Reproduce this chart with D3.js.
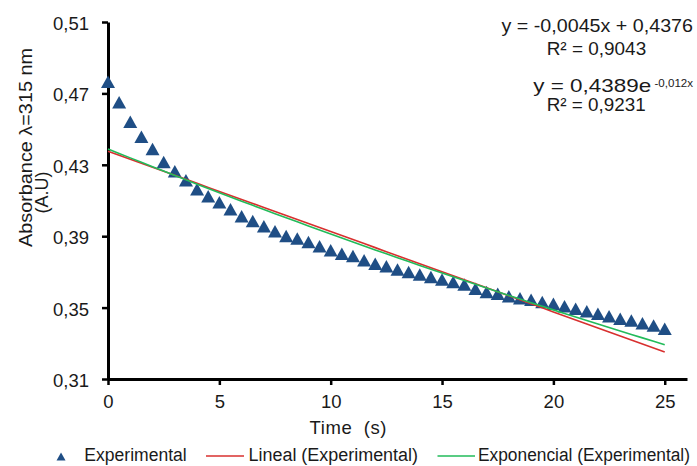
<!DOCTYPE html>
<html>
<head>
<meta charset="utf-8">
<script src="https://cdn.jsdelivr.net/npm/d3@7"></script>
<style>
  html, body { margin: 0; padding: 0; background: #fff; }
  svg { display: block; font-family: "Liberation Sans", Arial, sans-serif; }
</style>
</head>
<body>
<script>
// Absorbance at 315 nm sampled every 0.5 s
const times = [0, 0.5, 1, 1.5, 2, 2.5, 3, 3.5, 4, 4.5, 5, 5.5, 6, 6.5, 7, 7.5, 8, 8.5, 9, 9.5,
  10, 10.5, 11, 11.5, 12, 12.5, 13, 13.5, 14, 14.5, 15, 15.5, 16, 16.5, 17, 17.5, 18, 18.5, 19, 19.5,
  20, 20.5, 21, 21.5, 22, 22.5, 23, 23.5, 24, 24.5, 25];
const absorbance = [0.4765, 0.4651, 0.4541, 0.4457, 0.4388, 0.4316, 0.4264, 0.4214, 0.4163, 0.4124,
  0.4090, 0.4051, 0.4012, 0.3985, 0.3956, 0.3928, 0.3901, 0.3887, 0.3868, 0.3843,
  0.3821, 0.3802, 0.3789, 0.3765, 0.3746, 0.3731, 0.3713, 0.3699, 0.3685, 0.3671,
  0.3657, 0.3643, 0.3629, 0.3606, 0.3587, 0.3578, 0.3563, 0.3552, 0.3544, 0.3531,
  0.3522, 0.3508, 0.3494, 0.3480, 0.3466, 0.3451, 0.3438, 0.3428, 0.3413, 0.3400, 0.3382];

// Trendline coefficients
const linearFit = [-0.0045, 0.4376];   // slope, intercept
const expFit = [0.4389, -0.0115];      // a, b  in  y = a·e^(b·x)

const xTicks = [0, 5, 10, 15, 20, 25];
const yTicks = [0.31, 0.35, 0.39, 0.43, 0.47, 0.51];
const seriesNames = ["Experimental", "Lineal (Experimental)", "Exponencial (Experimental)"];
const linearEquation = ["y = -0,0045x + 0,4376", "R² = 0,9043"];
const expEquation = ["y = 0,4389e", "-0,012x", "R² = 0,9231"];
const xTitle = "Time  (s)";
const yTitle = ["Absorbance λ=315 nm", "(A.U)"];

const W = 697, H = 466;
const COL_PTS = "#1f4e85", COL_LIN = "#d8302f", COL_EXP = "#22bb5a", TXT = "#1a1a1a";

const svg = d3.select("body").append("svg")
  .attr("width", W).attr("height", H)
  .attr("viewBox", `0 0 ${W} ${H}`);
svg.append("rect").attr("width", W).attr("height", H).attr("fill", "#fff");

const x = d3.scaleLinear().domain([0, 26]).range([108, 687]);
const y = d3.scaleLinear().domain([0.31, 0.51]).range([379, 22]);

const fmt = d => d.toFixed(2).replace(".", ",");

// Axes
const gy = svg.append("g").attr("transform", `translate(${x(0)},0)`)
  .call(d3.axisLeft(y).tickValues(yTicks).tickFormat(fmt).tickSize(6).tickSizeOuter(0).tickPadding(13));
const gx = svg.append("g").attr("transform", `translate(0,${y(0.31)})`)
  .call(d3.axisBottom(x).tickValues(xTicks).tickFormat(d3.format("d")).tickSize(6).tickSizeOuter(0).tickPadding(10));

[gx, gy].forEach(g => {
  g.select(".domain").attr("stroke", "#000").attr("stroke-width", 3);
  g.selectAll(".tick line").attr("stroke", "#000").attr("stroke-width", 2.5);
  g.selectAll(".tick text").attr("fill", TXT).style("font-size", "18.5px")
    .style("font-family", '"Liberation Sans", Arial, sans-serif');
});
gy.selectAll(".tick text").attr("dy", "0.4em");

// Axis titles
svg.append("text").attr("x", 348).attr("y", 434).attr("text-anchor", "middle")
  .attr("fill", TXT).style("font-size", "18.5px").style("white-space", "pre")
  .attr("textLength", 77).attr("lengthAdjust", "spacing")
  .text(xTitle);
svg.append("text").attr("transform", "translate(32,147.5) rotate(-90)")
  .attr("text-anchor", "middle").attr("fill", TXT).style("font-size", "19px")
  .attr("textLength", 199).attr("lengthAdjust", "spacingAndGlyphs")
  .text(yTitle[0]);
svg.append("text").attr("transform", "translate(48,192.5) rotate(-90)")
  .attr("text-anchor", "middle").attr("fill", TXT).style("font-size", "18px")
  .text(yTitle[1]);

// Triangle marker centred on its bounding box
const tri = (cx, cy, w, h) =>
  `M${cx},${cy - h / 2}L${cx + w / 2},${cy + h / 2}L${cx - w / 2},${cy + h / 2}Z`;

// Data points
svg.append("g").selectAll("path")
  .data(times.map((t, i) => [t, absorbance[i]]))
  .join("path")
  .attr("d", d => tri(x(d[0]), y(d[1]), 14, 12.5))
  .attr("fill", COL_PTS);

// Trendlines
const linePath = d3.line().x(d => x(d[0])).y(d => y(d[1]));
svg.append("path")
  .attr("d", linePath(times.map(t => [t, linearFit[0] * t + linearFit[1]])))
  .attr("fill", "none").attr("stroke", COL_LIN).attr("stroke-width", 1.6);
svg.append("path")
  .attr("d", linePath(times.map(t => [t, expFit[0] * Math.exp(expFit[1] * t)])))
  .attr("fill", "none").attr("stroke", COL_EXP).attr("stroke-width", 1.6);

// Trendline equations
const eq = (tx, ty, str, len, size) => svg.append("text")
  .attr("x", tx).attr("y", ty).attr("fill", TXT).style("font-size", size + "px")
  .attr("textLength", len).attr("lengthAdjust", "spacingAndGlyphs").text(str);
eq(501.5, 32.3, linearEquation[0], 191.5, 18.5);
eq(546.7, 55, linearEquation[1], 99.5, 18.5);
eq(533.3, 91.5, expEquation[0], 118, 18.5);
eq(654.5, 86.5, expEquation[1], 38.5, 11.5);
eq(546.7, 110.5, expEquation[2], 99, 18.5);

// Legend
const LEG_Y = 461.3;
const lg = svg.append("g");
lg.append("path").attr("d", tri(61, 456.5, 9, 8)).attr("fill", COL_PTS);
lg.append("text").attr("x", 84.3).attr("y", LEG_Y).attr("fill", TXT).style("font-size", "18px")
  .attr("textLength", 102.4).attr("lengthAdjust", "spacingAndGlyphs").text(seriesNames[0]);
lg.append("line").attr("x1", 206).attr("x2", 244).attr("y1", 456).attr("y2", 456)
  .attr("stroke", COL_LIN).attr("stroke-width", 1.6);
lg.append("text").attr("x", 248.5).attr("y", LEG_Y).attr("fill", TXT).style("font-size", "18px")
  .attr("textLength", 169.5).attr("lengthAdjust", "spacingAndGlyphs").text(seriesNames[1]);
lg.append("line").attr("x1", 437.5).attr("x2", 475).attr("y1", 456).attr("y2", 456)
  .attr("stroke", COL_EXP).attr("stroke-width", 1.6);
lg.append("text").attr("x", 478).attr("y", LEG_Y).attr("fill", TXT).style("font-size", "18px")
  .attr("textLength", 212).attr("lengthAdjust", "spacingAndGlyphs").text(seriesNames[2]);
</script>
</body>
</html>
